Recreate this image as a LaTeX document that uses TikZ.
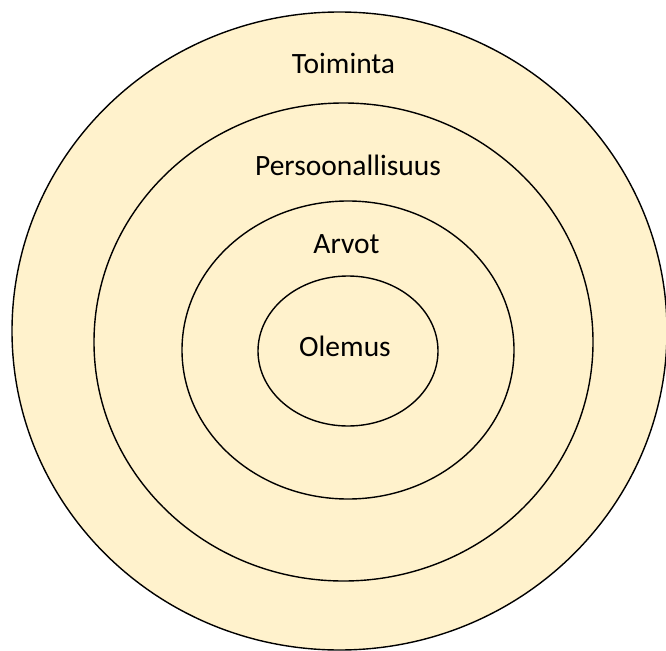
\documentclass[tikz,border=0pt]{standalone}
\usepackage{fontspec}
\setmainfont{Carlito}
\begin{document}
\begin{tikzpicture}[x=1pt,y=-1pt,
  ring/.style={draw=black,line width=1.4pt,fill=ringfill},
  lbl/.style={anchor=base,inner sep=0pt,font=\fontsize{29.5}{35}\selectfont}]
\definecolor{ringfill}{HTML}{FFF2CC}
\useasboundingbox (0,0) rectangle (666,650);
\clip (0,0) rectangle (666,650);
\draw[ring] (339.5,331) ellipse [x radius=327.5, y radius=319];
\draw[ring] (343.5,342) ellipse [x radius=249.5, y radius=239];
\draw[ring] (348,350) ellipse [x radius=166, y radius=149];
\draw[ring] (348,351) ellipse [x radius=90, y radius=75];
\node[lbl] (toiminta) at (343.5,73.3) {Toiminta};
\node[lbl] (persoonallisuus) at (348,175) {Persoonallisuus};
\node[lbl] (arvot) at (346.5,253) {Arvot};
\node[lbl] (olemus) at (345,356.7) {Olemus};
\end{tikzpicture}
\end{document}
